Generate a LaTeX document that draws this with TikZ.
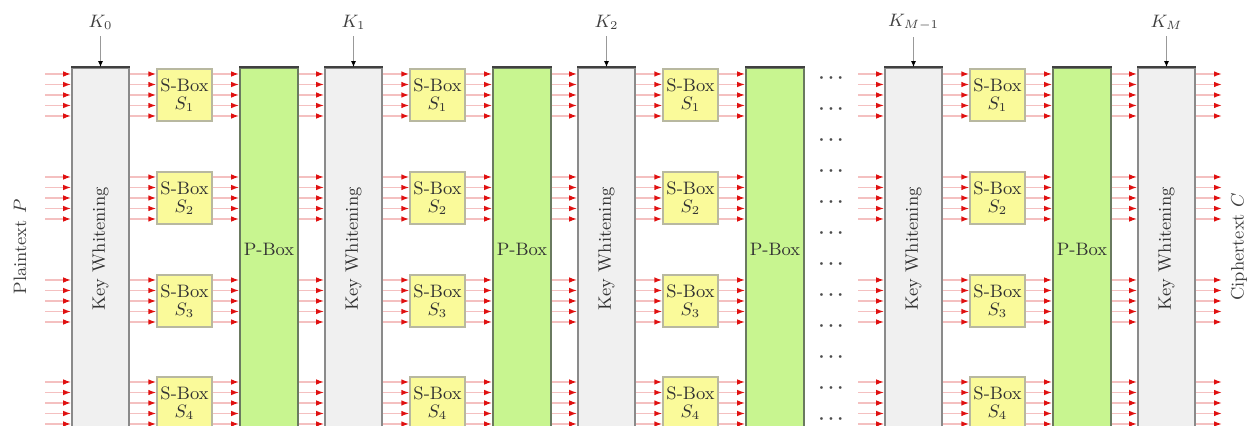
\documentclass[tikz,border=0pt]{standalone}
\usetikzlibrary{arrows.meta}
\definecolor{kwfill}{HTML}{F0F0F0}
\definecolor{kwdraw}{HTML}{8A8A8A}
\definecolor{sbfill}{HTML}{FAFA9A}
\definecolor{sbdraw}{HTML}{B8B8A0}
\definecolor{pbfill}{HTML}{C8F590}
\definecolor{pbdraw}{HTML}{6A7A60}
\definecolor{wirecol}{HTML}{F4C0C0}
\definecolor{tipcol}{HTML}{E01010}
\begin{document}
\begin{tikzpicture}[x=0.5pt,y=-0.5pt,
  kwbox/.style={draw=kwdraw,fill=kwfill,line width=0.9pt,minimum width=28.5pt,minimum height=181pt,inner sep=0pt},
  sbbox/.style={draw=sbdraw,fill=sbfill,line width=0.7pt,minimum width=27.5pt,minimum height=26pt,inner sep=0pt,align=center,font=\small,text=black!80},
  pbbox/.style={draw=pbdraw,fill=pbfill,line width=0.9pt,minimum width=29pt,minimum height=181pt,inner sep=0pt,font=\small,text=black!80},
  topedge/.style={draw=black!75,line width=1.4pt},
  wire/.style={draw=wirecol,line width=0.7pt,-{Latex[length=4pt,width=2.8pt,color=tipcol]}},
  keyarrow/.style={draw=gray!80,line width=0.5pt,-{Latex[length=3pt,width=2.5pt,color=black]}},
  klabel/.style={font=\small,text=black!75},
  dotsnode/.style={font=\small\boldmath,text=black!70}
]
\useasboundingbox (0,0) rectangle (1249,426);
\clip (0,0) rectangle (1249,426);

% stages
\foreach \i/\bx in {0/72,1/325,2/578,3/885}{
  \node[kwbox] (kw\i) at (\bx+28.5,249) {\rotatebox{90}{\small\color{black!80}Key Whitening}};
  \draw[topedge] (kw\i.north west) -- (kw\i.north east);
  \foreach \g/\sy in {1/95,2/198,3/301,4/403}{
    \node[sbbox] (sb\i\g) at (\bx+112.5,\sy) {S-Box\\[-2pt]$S_{\g}$};
  }
  \node[pbbox] (pb\i) at (\bx+197,249) {P-Box};
  \draw[topedge] (pb\i.north west) -- (pb\i.north east);
}
\node[kwbox] (kw4) at (1166.5,249) {\rotatebox{90}{\small\color{black!80}Key Whitening}};
\draw[topedge] (kw4.north west) -- (kw4.north east);

% keys
\node[klabel] (k0) at (100.5,22) {$K_0$};
\node[klabel] (k1) at (353.5,22) {$K_1$};
\node[klabel] (k2) at (606.5,22) {$K_2$};
\node[klabel] (k3) at (913.5,22) {$K_{M-1}$};
\node[klabel] (k4) at (1166.5,22) {$K_M$};
\foreach \i in {0,...,4}{
  \draw[keyarrow] (k\i) -- (kw\i.north);
}

% free ends
\coordinate (inL) at (45,0);
\coordinate (midL) at (858,0);
\coordinate (outR) at (1222,0);

% wires
\foreach \g/\base in {1/74,2/177,3/280,4/382}{
  \foreach \j in {0,...,4}{
    \pgfmathsetmacro\yy{\base+10.5*\j}
    \draw[wire] (inL |- 0,\yy) -- (kw0.west |- 0,\yy);
    \draw[wire] (midL |- 0,\yy) -- (kw3.west |- 0,\yy);
    \draw[wire] (kw4.east |- 0,\yy) -- (outR |- 0,\yy);
    \foreach \i in {0,...,3}{
      \draw[wire] (kw\i.east |- 0,\yy) -- (sb\i\g.west |- 0,\yy);
      \draw[wire] (sb\i\g.east |- 0,\yy) -- (pb\i.west |- 0,\yy);
    }
    \draw[wire] (pb0.east |- 0,\yy) -- (kw1.west |- 0,\yy);
    \draw[wire] (pb1.east |- 0,\yy) -- (kw2.west |- 0,\yy);
    \draw[wire] (pb3.east |- 0,\yy) -- (kw4.west |- 0,\yy);
  }
}

% dots
\foreach \k in {0,...,11}{
  \node[dotsnode] (dots\k) at (831,78+31*\k) {$\cdots$};
}

% labels
\node[rotate=90,font=\small,text=black!75] (ptxt) at (20,247) {Plaintext $P$};
\node[rotate=90,font=\small,text=black!75] (ctxt) at (1239,247) {Ciphertext $C$};
\end{tikzpicture}
\end{document}
